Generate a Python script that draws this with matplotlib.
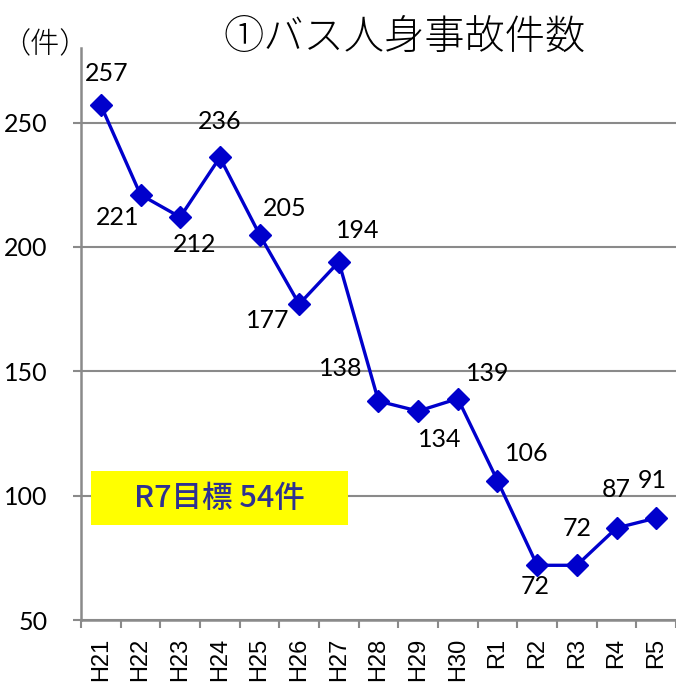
import matplotlib
matplotlib.use("Agg")
import matplotlib.pyplot as plt
from matplotlib.ticker import FixedLocator, NullFormatter

categories = ["H21", "H22", "H23", "H24", "H25", "H26", "H27", "H28", "H29", "H30",
              "R1", "R2", "R3", "R4", "R5"]
values = [257, 221, 212, 236, 205, 177, 194, 138, 134, 139, 106, 72, 72, 87, 91]
y_ticks = [50, 100, 150, 200, 250]
title = "①バス人身事故件数"
unit_label = "（件）"
target_text = "R7目標 54件"

# label offsets in pixels (layout only)
label_offsets = [(6, 32), (-23, -23), (14, -27), (0, 36), (25, 26), (-31, -16), (19, 31),
                 (-38, 33), (22, -28), (30, 25), (29, 27), (-2, -21), (0, 37), (0, 38), (-4, 38)]

W, H = 676, 686
fig = plt.figure(figsize=(W / 100, H / 100), dpi=100)
ax = fig.add_axes([81 / W, 1 - 620 / H, (W - 81) / W, (620 - 48) / H])

x = list(range(len(categories)))
line_col = "#0000CC"
ax.plot(x, values, color=line_col, lw=2.4, marker="D", ms=11, mfc=line_col, mec=line_col, zorder=5,
        clip_on=False)

for xi, v, (dx, dy) in zip(x, values, label_offsets):
    ax.annotate(str(v), (xi, v), xytext=(dx, dy), textcoords="offset pixels",
                ha="center", va="center", fontsize=18, family=["Lato", "DejaVu Sans"], color="black",
                zorder=6)

grey = "#8a8a8a"
ax.set_xlim(-0.5, len(categories) - 0.5)
ax.set_ylim(50, 280)
ax.set_yticks(y_ticks)
ax.yaxis.grid(True, color=grey, lw=1.5)
ax.set_axisbelow(True)
for s in ["top", "right"]:
    ax.spines[s].set_visible(False)
for s in ["left", "bottom"]:
    ax.spines[s].set_color(grey)
    ax.spines[s].set_linewidth(1.8)

ax.set_xticks(x)
ax.set_xticklabels(categories, rotation=90, fontsize=17, family=["Liberation Sans", "DejaVu Sans"])
ax.tick_params(axis="x", which="major", length=0, pad=13)
ax.xaxis.set_minor_locator(FixedLocator([i - 0.5 for i in range(len(categories) + 1)]))
ax.xaxis.set_minor_formatter(NullFormatter())
ax.tick_params(axis="x", which="minor", length=6, width=1.5, color=grey, direction="out")
ax.tick_params(axis="y", length=6, width=1.5, color=grey, direction="out", pad=18, labelsize=18)
for lab in ax.get_yticklabels():
    lab.set_family(["Lato", "DejaVu Sans"])

fig.text(405 / W, 1 - 38 / H, title, ha="center", va="center", fontsize=29,
         family=["Noto Sans CJK JP", "DejaVu Sans"], weight="light", color="black")
fig.text(1 / W, 1 - 45 / H, unit_label, ha="left", va="center", fontsize=21,
         family=["Noto Sans CJK JP", "DejaVu Sans"], weight="light", color="black")

# target box
bx0, bx1, by0, by1 = 91, 348, 471, 525
fig.patches.append(plt.Rectangle((bx0 / W, 1 - by1 / H), (bx1 - bx0) / W, (by1 - by0) / H,
                                 transform=fig.transFigure, facecolor="#FFFF00", edgecolor="none",
                                 zorder=3))
fig.text((bx0 + bx1) / 2 / W, 1 - (by0 + by1) / 2 / H, target_text, ha="center", va="center",
         fontsize=22, family=["Noto Sans CJK JP", "DejaVu Sans"], weight="medium", color="#2E3192",
         zorder=4)

fig.savefig("out.png", dpi=100)
